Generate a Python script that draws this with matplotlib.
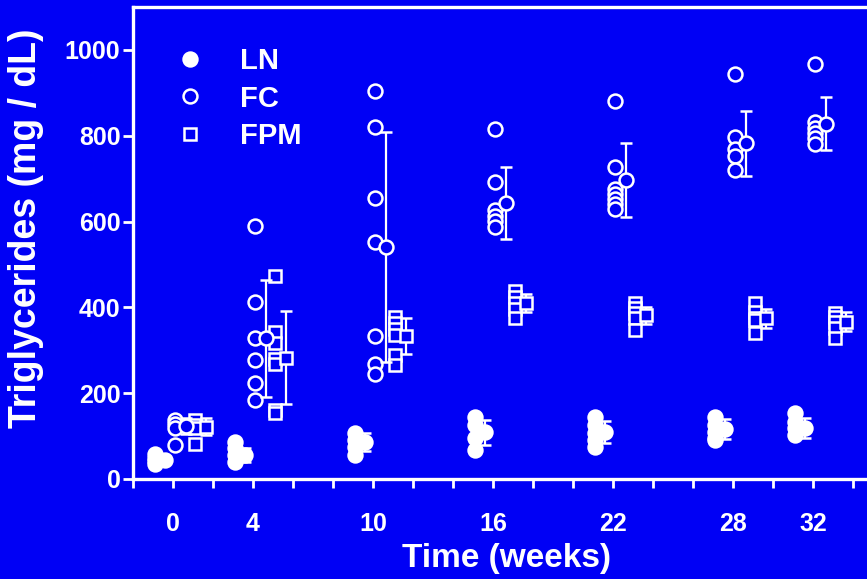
# Triglycerides over time: LN / FC / FPM groups, individual values + mean ± SD

import matplotlib
matplotlib.use('Agg')
from matplotlib import pyplot as plt

weeks = [0, 4, 10, 16, 22, 28, 32]
weekLabels = ['0', '4', '10', '16', '22', '28', '32']
groupNames = ['LN', 'FC', 'FPM']

# LN - individual values, mean, SD
lnPoints = [
    [58, 50, 42, 36],
    [87, 72, 56, 40],
    [107, 91, 75, 56],
    [144, 126, 96, 68],
    [144, 126, 107, 91, 75],
    [145, 125, 110, 95, 90],
    [153, 134, 118, 103],
]
lnMean = [45, 56, 86, 109, 110, 116, 118]
lnSd = [8, 16, 21, 29, 26, 23, 23]

# FC
fcPoints = [
    [137, 128, 119, 79],
    [590, 413, 329, 277, 224, 184],
    [905, 820, 656, 553, 334, 268, 245],
    [815, 693, 627, 614, 601, 588],
    [880, 728, 675, 664, 652, 641, 629],
    [944, 797, 768, 753, 719],
    [967, 833, 818, 806, 794, 781],
]
fcMean = [124, 328, 540, 644, 697, 782, 828]
fcSd = [18, 136, 268, 84, 86, 75, 62]

# FPM
fpmPoints = [
    [137, 126, 119, 82],
    [472, 343, 317, 280, 268, 160, 154],
    [378, 363, 350, 336, 289, 266],
    [437, 425, 410, 396, 375],
    [410, 399, 388, 375, 347],
    [410, 390, 375, 370, 340],
    [386, 378, 365, 351, 328],
]
fpmMean = [122, 283, 333, 410, 382, 375, 367]
fpmSd = [20, 108, 42, 20, 20, 22, 22]

BLUE = '#0000F5'
WHITE = 'white'

plt.rcParams['font.family'] = ['Liberation Sans', 'DejaVu Sans']
plt.rcParams['font.weight'] = 'bold'

fig = plt.figure(figsize=(8.67, 5.79), dpi=100, facecolor=BLUE)
ax = fig.add_axes([133 / 867, 100 / 579, 734 / 867, 472 / 579])
ax.set_facecolor(BLUE)


def drawGroup(points, means, sds, marker, ms, filled, label, ptsShift, meanShift):
    face = WHITE if filled else BLUE
    for i, (week, vals) in enumerate(zip(weeks, points)):
        ax.plot([week + ptsShift] * len(vals), vals, linestyle='none',
                marker=marker, ms=ms, mfc=face, mec=WHITE, mew=1.8,
                label=label if i == 0 else None, zorder=3)
    # среднее и стандартное отклонение рядом с точками
    ax.errorbar([w + meanShift for w in weeks], means, yerr=sds, fmt=marker,
                ms=ms, mfc=face, mec=WHITE, mew=1.8, ecolor=WHITE,
                elinewidth=1.6, capsize=4.3, capthick=1.6, zorder=4)


drawGroup(lnPoints, lnMean, lnSd, 'o', 10, True, 'LN', -0.9, -0.4)
drawGroup(fcPoints, fcMean, fcSd, 'o', 10, False, 'FC', 0.12, 0.65)
drawGroup(fpmPoints, fpmMean, fpmSd, 's', 9, False, 'FPM', 1.1, 1.67)

ax.set_xlim(-2, 34.7)
ax.set_ylim(0, 1100)

xTicks = list(range(-2, 35, 2))
xLabels = [weekLabels[weeks.index(t)] if t in weeks else '' for t in xTicks]
ax.set_xticks(xTicks, xLabels)
ax.set_yticks(range(0, 1001, 200))

ax.tick_params(colors=WHITE, width=2, labelsize=18)
ax.tick_params(axis='x', length=6.5, pad=17)
ax.tick_params(axis='y', length=7, pad=2)

for side in ['left', 'top', 'bottom']:
    ax.spines[side].set_color(WHITE)
    ax.spines[side].set_linewidth(2.4)
ax.spines['right'].set_visible(False)

ax.set_xlabel('Time (weeks)', fontsize=24, fontweight='bold', color=WHITE)
ax.set_ylabel('Triglycerides (mg / dL)', fontsize=27, fontweight='bold', color=WHITE)
ax.xaxis.set_label_coords(0.5095, -0.1356)
ax.yaxis.set_label_coords(-0.121, 0.532)

fig.legend(loc='upper left', bbox_to_anchor=(175.4 / 867, (579 - 47) / 579),
           frameon=False, fontsize=21, labelcolor=WHITE, borderpad=0,
           borderaxespad=0, handlelength=1.0, handletextpad=1.21,
           labelspacing=0.33)

fig.savefig('out.png', dpi=100, facecolor=BLUE)
